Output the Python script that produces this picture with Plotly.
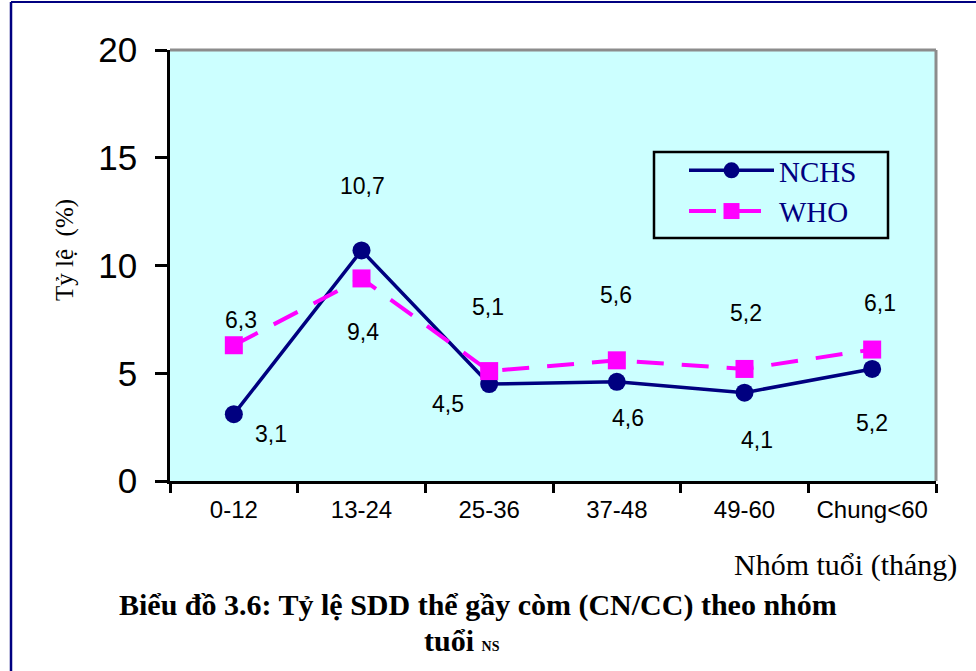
import plotly.graph_objects as go

categories = ["0-12", "13-24", "25-36", "37-48", "49-60", "Chung<60"]
nchs = [3.1, 10.7, 4.5, 4.6, 4.1, 5.2]
who = [6.3, 9.4, 5.1, 5.6, 5.2, 6.1]
y_ticks = [0, 5, 10, 15, 20]

# label offsets in px (style only)
nchs_off = [(37, -20), (1, 64), (-41, -20), (11, -36), (12, -47), (0, -54)]
who_off = [(7, 25), (1, -54), (-1, 64), (-1, 65), (1, 56), (8, 47)]

W, H = 976, 671
L, R, T, B = 170, 40, 50, 190
pw, ph = W - L - R, H - T - B

def px(x):
    return (x - L) / pw

def py(y):
    return (H - B - y) / ph

fig = go.Figure()
fig.add_trace(go.Scatter(
    x=categories, y=nchs, name="NCHS", mode="lines+markers",
    line=dict(color="#000080", width=3.5),
    marker=dict(symbol="circle", size=18, color="#000080"),
))
fig.add_trace(go.Scatter(
    x=categories, y=who, name="WHO", mode="lines+markers",
    line=dict(color="#FF00FF", width=4, dash="27px,18px"),
    marker=dict(symbol="square", size=18, color="#FF00FF"),
))

def fmt(v):
    return ("%.1f" % v).replace(".", ",")

sans = "Liberation Sans, Arial"
serif = "Liberation Serif, Times New Roman"

ann = []
for c, v, (dx, dy) in zip(categories, nchs, nchs_off):
    ann.append(dict(x=c, y=v, xref="x", yref="y", text=fmt(v), showarrow=False,
                    xshift=dx, yshift=dy,
                    font=dict(family=sans, size=23, color="black")))
for c, v, (dx, dy) in zip(categories, who, who_off):
    ann.append(dict(x=c, y=v, xref="x", yref="y", text=fmt(v), showarrow=False,
                    xshift=dx, yshift=dy,
                    font=dict(family=sans, size=23, color="black")))

ann.append(dict(x=px(65), y=py(250), xref="paper", yref="paper", text="Tỷ lệ\u00a0\u00a0(%)",
                textangle=-90, showarrow=False, xanchor="center", yanchor="middle",
                font=dict(family=serif, size=25, color="black")))
ann.append(dict(x=px(959), y=py(565), xref="paper", yref="paper", text="Nhóm tuổi (tháng)",
                xanchor="right", yanchor="middle", showarrow=False,
                font=dict(family=serif, size=30, color="black")))
ann.append(dict(x=px(478), y=py(605), xref="paper", yref="paper",
                text="<b>Biểu đồ 3.6: Tỷ lệ SDD thể gầy còm (CN/CC) theo nhóm</b>",
                xanchor="center", yanchor="middle",
                showarrow=False, font=dict(family=serif, size=30, color="black")))
ann.append(dict(x=px(462), y=py(640), xref="paper", yref="paper",
                text="<b>tuổi <span style='font-size:14px'>NS</span></b>",
                xanchor="center", yanchor="middle",
                showarrow=False, font=dict(family=serif, size=30, color="black")))

shapes = [
    # plot border top & right (gray)
    dict(type="line", xref="paper", yref="paper", x0=0, x1=1, y0=1, y1=1,
         line=dict(color="#8c8c8c", width=3)),
    dict(type="line", xref="paper", yref="paper", x0=1, x1=1, y0=0, y1=1,
         line=dict(color="#8c8c8c", width=3)),
    # legend box
    dict(type="rect", xref="paper", yref="paper", x0=px(654), x1=px(888), y0=py(238), y1=py(152),
         line=dict(color="black", width=2.5)),
    # outer navy frame (left & top)
    dict(type="line", xref="paper", yref="paper", x0=px(11), x1=px(11), y0=py(671), y1=py(2),
         line=dict(color="#000080", width=2.5)),
    dict(type="line", xref="paper", yref="paper", x0=px(11), x1=px(976), y0=py(2), y1=py(2),
         line=dict(color="#000080", width=2)),
]

fig.update_layout(
    width=W, height=H,
    margin=dict(l=L, r=R, t=T, b=B),
    paper_bgcolor="white",
    plot_bgcolor="#CCFFFF",
    showlegend=True,
    legend=dict(
        x=px(684), y=py(145), xanchor="left", yanchor="top",
        bgcolor="rgba(0,0,0,0)", borderwidth=0,
        font=dict(family=serif, size=29, color="#000080"),
        itemwidth=85, tracegroupgap=0,
    ),
    annotations=ann,
    shapes=shapes,
    xaxis=dict(
        type="category", range=[-0.5, 5.5], tickson="boundaries",
        showline=True, linecolor="black", linewidth=2.5,
        ticks="outside", ticklen=9, tickwidth=2.5, tickcolor="black",
        showgrid=False, zeroline=False,
        tickfont=dict(family=sans, size=24, color="black"),
        ticklabelstandoff=5,
    ),
    yaxis=dict(
        range=[0, 20], tickvals=y_ticks,
        showline=True, linecolor="black", linewidth=2.5,
        ticks="outside", ticklen=12, tickwidth=2.5, tickcolor="black",
        showgrid=False, zeroline=False,
        tickfont=dict(family=sans, size=35, color="black"),
        ticklabelstandoff=11,
    ),
)

fig.write_html("out.html")
